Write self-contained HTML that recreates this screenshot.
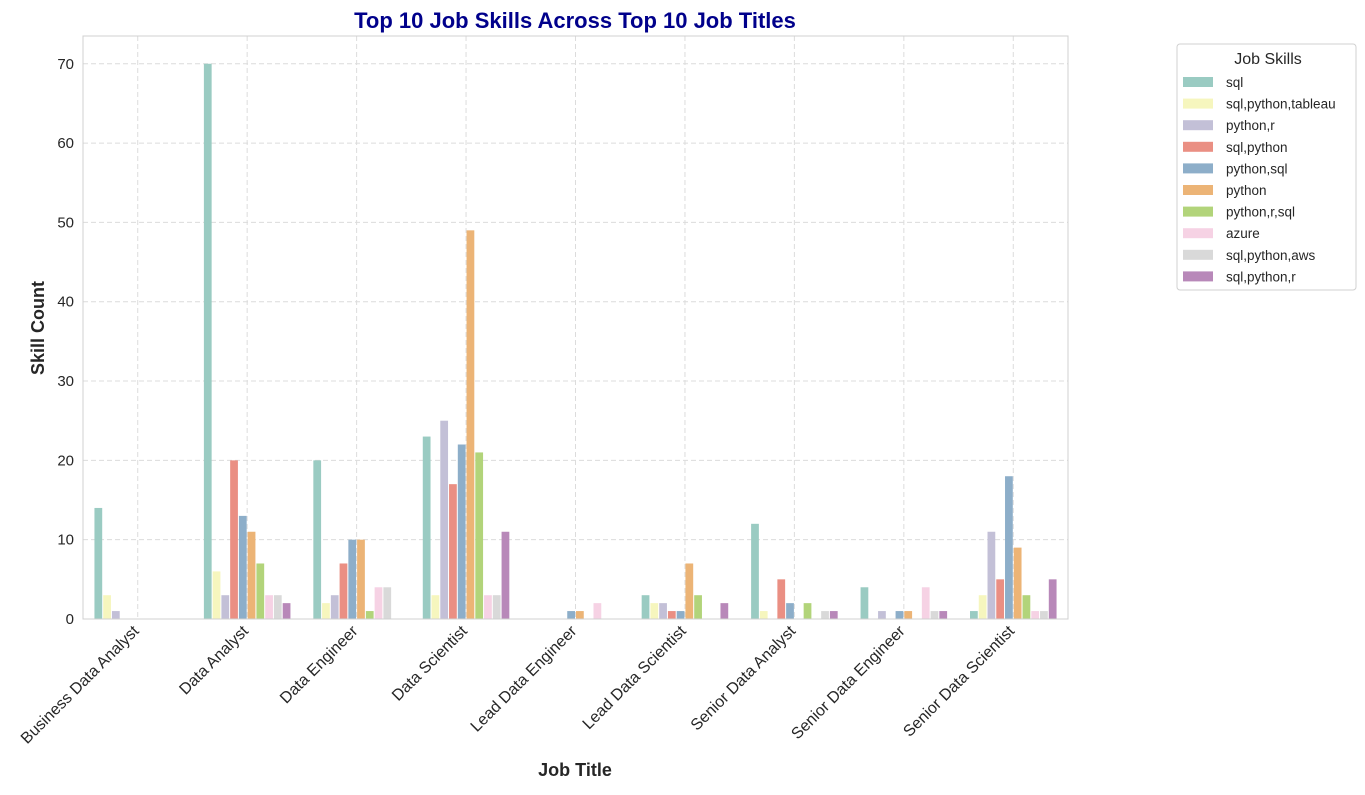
<!DOCTYPE html>
<html><head><meta charset="utf-8"><style>
body{margin:0;background:#fff;font-family:"Liberation Sans",Arial,sans-serif}
svg text{font-family:"Liberation Sans",Arial,sans-serif}
</style></head><body>
<svg id="chart" width="1365" height="790" xmlns="http://www.w3.org/2000/svg">
<rect width="1365" height="790" fill="#fff"/>
<g id="grid"></g><g id="bars"></g><g id="axes"></g><g id="legend"></g>
</svg>
<script>
const categories=["Business Data Analyst","Data Analyst","Data Engineer","Data Scientist","Lead Data Engineer","Lead Data Scientist","Senior Data Analyst","Senior Data Engineer","Senior Data Scientist"];
const skills=["sql","sql,python,tableau","python,r","sql,python","python,sql","python","python,r,sql","azure","sql,python,aws","sql,python,r"];
const colors=["#9acbc2","#f6f6be","#c3c0d7","#ea8f83","#8daec9","#ecb476","#b2d47a","#f6d2e4","#d9d9d9","#b888b9"];
const sqlVals=[14,70,20,23,0,3,12,4,1];
const sqlPyTabVals=[3,6,2,3,0,2,1,0,3];
const pyRVals=[1,3,3,25,0,2,0,1,11];
const sqlPyVals=[0,20,7,17,0,1,5,0,5];
const pySqlVals=[0,13,10,22,1,1,2,1,18];
const pyVals=[0,11,10,49,1,7,0,1,9];
const pyRSqlVals=[0,7,1,21,0,3,2,0,3];
const azureVals=[0,3,4,3,2,0,0,4,1];
const sqlPyAwsVals=[0,3,4,3,0,0,1,1,1];
const sqlPyRVals=[0,2,0,11,0,2,1,1,5];
const series=[sqlVals,sqlPyTabVals,pyRVals,sqlPyVals,pySqlVals,pyVals,pyRSqlVals,azureVals,sqlPyAwsVals,sqlPyRVals];
const yTicks=[0,10,20,30,40,50,60,70];

const NS="http://www.w3.org/2000/svg";
const L=83,R=1068,T=36,B=619;
const yMax=73.5;
const y=v=>B-(v/yMax)*(B-T);
const band=(R-L)/categories.length;
const xc=i=>L+band*(i+0.5);
const bw=band*0.8/skills.length;
function mk(tag,attrs,parent){const e=document.createElementNS(NS,tag);for(const k in attrs)e.setAttribute(k,attrs[k]);parent.appendChild(e);return e;}
const grid=document.getElementById('grid'),bars=document.getElementById('bars'),axes=document.getElementById('axes'),legend=document.getElementById('legend');
yTicks.forEach(t=>{
 const g=mk('line',{x1:L,x2:R,y1:y(t),y2:y(t),stroke:'#dcdcdc','stroke-dasharray':'5,3'},grid);
 
 
 const tx=mk('text',{x:L-9,y:y(t)+5,'text-anchor':'end','font-size':15,fill:'#262626'},axes);
 tx.textContent=t;
 
 
});
categories.forEach((c,i)=>{
 const g=mk('line',{x1:xc(i),x2:xc(i),y1:T,y2:B,stroke:'#dcdcdc','stroke-dasharray':'5,3'},grid);
 
 
 const ax=xc(i)+2,ay=B+13;
 const tx=mk('text',{x:ax,y:ay,'text-anchor':'end','font-size':16,fill:'#262626',transform:`rotate(-45 ${ax} ${ay})`},axes);
 tx.textContent=c;
 
 
});
series.forEach((vals,s)=>{
 vals.forEach((v,i)=>{
  if(v<=0)return;
  const x0=xc(i)-band*0.4+s*bw;
  const r=mk('rect',{x:x0+0.5,y:y(v),width:bw-1,height:B-y(v),fill:colors[s]},bars);
  
  
 });
});
const frame=mk('rect',{x:L,y:T,width:R-L,height:B-T,fill:'none',stroke:'#d0d0d0'},axes);


const title=mk('text',{x:575,y:28,'text-anchor':'middle','font-size':22,'font-weight':'bold',fill:'#00008b'},axes);
title.textContent='Top 10 Job Skills Across Top 10 Job Titles';


const yl=mk('text',{x:44,y:328,'text-anchor':'middle','font-size':18,'font-weight':'bold',fill:'#262626',transform:'rotate(-90 44 328)'},axes);
yl.textContent='Skill Count';


const xl=mk('text',{x:575,y:776,'text-anchor':'middle','font-size':18,'font-weight':'bold',fill:'#262626'},axes);
xl.textContent='Job Title';


const lb=mk('rect',{x:1177,y:44,width:179,height:246,rx:3,fill:'#fff',stroke:'#d0d0d0'},legend);


const lt=mk('text',{x:1268,y:64,'text-anchor':'middle','font-size':16,fill:'#262626'},legend);
lt.textContent='Job Skills';


skills.forEach((s,k)=>{
 const cy=82+k*21.6;
 const g=mk('g',{},legend);
 
 
 mk('rect',{x:1183,y:cy-5,width:30,height:10,fill:colors[k]},g);
 const t=mk('text',{x:1226,y:cy+5,'font-size':13.5,fill:'#262626'},g);
 t.textContent=s;
});
</script>
</body></html>
